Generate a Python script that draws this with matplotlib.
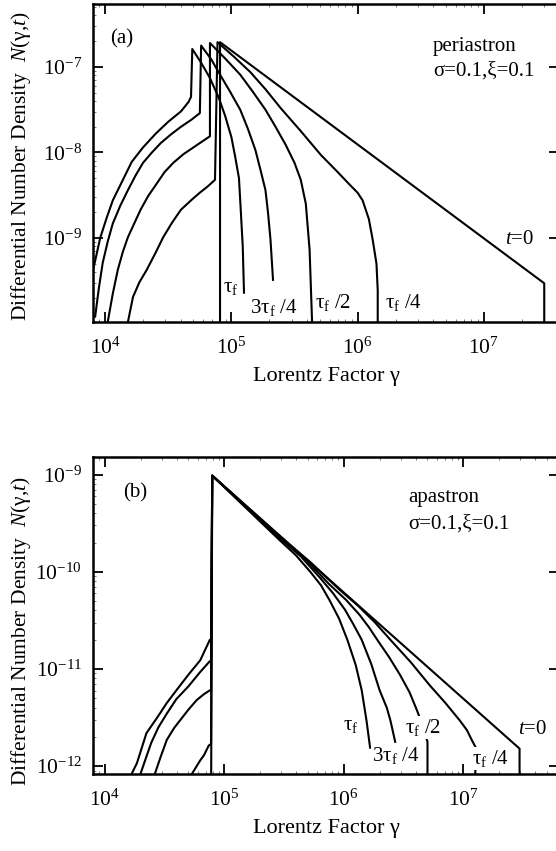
import numpy as np
import matplotlib
matplotlib.use('Agg')
from matplotlib import pyplot as plt

plt.rcParams['font.family'] = ['Liberation Serif', 'DejaVu Serif']
plt.rcParams['mathtext.fontset'] = 'custom'
plt.rcParams['mathtext.rm'] = 'Liberation Serif'
plt.rcParams['mathtext.it'] = 'Liberation Serif:italic'
plt.rcParams['mathtext.bf'] = 'Liberation Serif:bold'
plt.rcParams['axes.unicode_minus'] = False

# values, kept as log10(gamma) and log10(N)
# (a) periastron
top_t0_lg = [4.91, 4.91, 7.48, 7.48]
top_t0_lN = [-10.5, -6.71, -9.53, -10.5]
top_tf_lg = [3.90, 3.93, 3.96, 4.01, 4.06, 4.14, 4.21, 4.30, 4.40, 4.50, 4.60, 4.66, 4.68,
             4.69, 4.76, 4.83, 4.90, 4.95, 5.00, 5.03, 5.06, 5.07, 5.09, 5.10]
top_tf_lN = [-9.40, -9.20, -9.00, -8.77, -8.56, -8.32, -8.11, -7.94, -7.78, -7.64, -7.52, -7.41, -7.35,
             -6.79, -6.95, -7.13, -7.36, -7.57, -7.82, -8.05, -8.30, -8.56, -9.10, -9.64]
top_3tf4_lg = [3.92, 3.95, 3.98, 4.02, 4.06, 4.12, 4.18, 4.24, 4.30, 4.37, 4.44, 4.52, 4.60, 4.68, 4.75,
               4.76, 4.84, 4.91, 4.99, 5.07, 5.13, 5.19, 5.23, 5.27, 5.29, 5.31, 5.33]
top_3tf4_lN = [-9.92, -9.58, -9.29, -9.04, -8.83, -8.62, -8.44, -8.27, -8.12, -8.00, -7.89, -7.79, -7.70,
               -7.62, -7.54, -6.75, -6.91, -7.09, -7.29, -7.50, -7.72, -7.97, -8.20, -8.44, -8.70, -9.02, -9.49]
top_tf2_lg = [4.02, 4.06, 4.10, 4.14, 4.18, 4.23, 4.28, 4.34, 4.41, 4.47, 4.54, 4.62, 4.70, 4.77, 4.83,
              4.83, 4.95, 5.07, 5.17, 5.27, 5.35, 5.43, 5.50, 5.55, 5.59, 5.62, 5.64]
top_tf2_lN = [-9.98, -9.65, -9.37, -9.16, -8.99, -8.83, -8.67, -8.51, -8.36, -8.23, -8.12, -8.02, -7.94,
              -7.87, -7.81, -6.72, -6.90, -7.09, -7.29, -7.50, -7.70, -7.91, -8.12, -8.32, -8.60, -9.14, -10.0]
top_tf4_lg = [4.18, 4.22, 4.27, 4.33, 4.40, 4.46, 4.53, 4.60, 4.68, 4.75, 4.81, 4.87,
              4.89, 5.02, 5.15, 5.27, 5.39, 5.55, 5.71, 5.83, 5.94, 6.00, 6.04, 6.09, 6.12, 6.15, 6.16, 6.16]
top_tf4_lN = [-9.98, -9.69, -9.52, -9.37, -9.17, -8.99, -8.82, -8.67, -8.56, -8.47, -8.40, -8.32,
              -6.71, -6.88, -7.06, -7.26, -7.48, -7.75, -8.03, -8.21, -8.38, -8.47, -8.56, -8.78, -9.02, -9.30, -9.61, -10.0]

# (b) apastron
bot_t0_lg = [4.89, 4.90, 7.47, 7.47]
bot_t0_lN = [-12.5, -9.01, -11.82, -12.5]
bot_tf_lg = [4.23, 4.27, 4.35, 4.44, 4.52, 4.60, 4.70, 4.80, 4.88, 4.89, 4.90,
             5.46, 5.60, 5.72, 5.81, 5.88, 5.96, 6.03, 6.10, 6.15, 6.19, 6.22]
bot_tf_lN = [-12.07, -11.97, -11.66, -11.50, -11.35, -11.22, -11.06, -10.91, -10.70, -10.70, -9.01,
             -9.67, -9.83, -10.00, -10.14, -10.29, -10.48, -10.70, -10.96, -11.22, -11.53, -11.81]
bot_3tf4_lg = [4.30, 4.35, 4.39, 4.45, 4.52, 4.60, 4.70, 4.80, 4.88, 4.89, 4.90,
               5.46, 5.64, 5.80, 5.91, 6.01, 6.08, 6.15, 6.23, 6.30, 6.36, 6.39, 6.43]
bot_3tf4_lN = [-12.08, -11.90, -11.76, -11.60, -11.46, -11.31, -11.18, -11.03, -10.92, -10.92, -9.01,
               -9.65, -9.84, -10.06, -10.22, -10.39, -10.54, -10.70, -10.95, -11.22, -11.40, -11.53, -11.75]
bot_tf2_lg = [4.42, 4.47, 4.52, 4.58, 4.63, 4.70, 4.77, 4.83, 4.88, 4.89, 4.90,
              5.46, 5.68, 5.88, 6.02, 6.13, 6.21, 6.28, 6.38, 6.47, 6.55, 6.61, 6.66, 6.70, 6.70]
bot_tf2_lN = [-12.08, -11.90, -11.73, -11.61, -11.53, -11.42, -11.32, -11.26, -11.22, -11.22, -9.01,
              -9.64, -9.87, -10.13, -10.29, -10.44, -10.57, -10.70, -10.88, -11.06, -11.24, -11.42, -11.58, -11.75, -12.1]
bot_tf4_lg = [4.73, 4.77, 4.80, 4.83, 4.85, 4.87, 4.89, 4.90,
              5.46, 5.72, 5.97, 6.12, 6.26, 6.39, 6.56, 6.72, 6.85, 6.97, 7.03, 7.07, 7.10, 7.10]
bot_tf4_lN = [-12.08, -12.00, -11.94, -11.89, -11.84, -11.79, -11.77, -9.01,
              -9.63, -9.90, -10.19, -10.35, -10.52, -10.70, -10.93, -11.17, -11.35, -11.53, -11.63, -11.73, -11.80, -12.1]

top_curves = [(top_t0_lg, top_t0_lN), (top_tf_lg, top_tf_lN), (top_3tf4_lg, top_3tf4_lN),
              (top_tf2_lg, top_tf2_lN), (top_tf4_lg, top_tf4_lN)]
bot_curves = [(bot_t0_lg, bot_t0_lN), (bot_tf_lg, bot_tf_lN), (bot_3tf4_lg, bot_3tf4_lN),
              (bot_tf2_lg, bot_tf2_lN), (bot_tf4_lg, bot_tf4_lN)]

top_xlim = (8.0e3, 3.95e7)
top_ylim = (1.04e-10, 5.45e-7)
bot_xlim = (8.0e3, 6.3e7)
bot_ylim = (8.3e-13, 1.52e-9)

fig = plt.figure(figsize=(5.56, 8.51), dpi=100)
ax1 = fig.add_axes([0.1673, 0.6216, 0.838, 0.3737])
ax2 = fig.add_axes([0.1673, 0.0905, 0.838, 0.3725])


def style_axis(ax, xlim, ylim, yticks, label_y):
    ax.set_xscale('log')
    ax.set_yscale('log')
    ax.set_xlim(*xlim)
    ax.set_ylim(*ylim)
    ax.set_xticks([1e4, 1e5, 1e6, 1e7])
    ax.set_yticks(yticks)
    for s in ax.spines.values():
        s.set_linewidth(1.8)
    ax.tick_params(which='major', direction='in', top=True, right=True,
                   length=7, width=1.3, labelsize=15.5)
    ax.tick_params(axis='x', which='major', pad=11)
    ax.tick_params(axis='y', which='major', pad=8)
    ax.tick_params(which='minor', direction='in', top=True, right=True,
                   length=2, width=0.6, color='0.4')
    ax.set_xlabel('Lorentz Factor γ', fontsize=16, labelpad=6)
    ax.set_ylabel('Differential Number Density  $N$(γ,$t$)', fontsize=15.5)
    ax.yaxis.set_label_coords(-0.128, label_y)


for lg, lN in top_curves:
    ax1.plot(10 ** np.array(lg), 10 ** np.array(lN), color='black', lw=1.5)
for lg, lN in bot_curves:
    ax2.plot(10 ** np.array(lg), 10 ** np.array(lN), color='black', lw=1.5)

style_axis(ax1, top_xlim, top_ylim, [1e-9, 1e-8, 1e-7], 0.49)
style_axis(ax2, bot_xlim, bot_ylim, [1e-12, 1e-11, 1e-10, 1e-9], 0.45)

fs = 15
box = dict(facecolor='white', edgecolor='none', pad=0.5)
ax1.text(0.061, 0.891, '(a)', transform=ax1.transAxes, fontsize=fs, ha='center', va='center')
ax1.text(0.7296, 0.866, 'periastron', transform=ax1.transAxes, fontsize=fs, va='center')
ax1.text(0.7296, 0.788, 'σ=0.1,ξ=0.1', transform=ax1.transAxes, fontsize=fs, va='center')
ax1.text(0.279, 0.1085, 'τ$_\\mathrm{f}$', transform=ax1.transAxes, fontsize=fs, va='center')
ax1.text(0.337, 0.047, '3τ$_\\mathrm{f}$ /4', transform=ax1.transAxes, fontsize=fs, va='center')
ax1.text(0.476, 0.061, 'τ$_\\mathrm{f}$ /2', transform=ax1.transAxes, fontsize=fs, va='center')
ax1.text(0.627, 0.060, 'τ$_\\mathrm{f}$ /4', transform=ax1.transAxes, fontsize=fs, va='center')
ax1.text(0.884, 0.258, '$t$=0', transform=ax1.transAxes, fontsize=fs, va='center')

ax2.text(0.090, 0.888, '(b)', transform=ax2.transAxes, fontsize=fs, ha='center', va='center')
ax2.text(0.676, 0.871, 'apastron', transform=ax2.transAxes, fontsize=fs, va='center')
ax2.text(0.676, 0.789, 'σ=0.1,ξ=0.1', transform=ax2.transAxes, fontsize=fs, va='center')
ax2.text(0.5365, 0.153, 'τ$_\\mathrm{f}$', transform=ax2.transAxes, fontsize=fs, va='center', bbox=box)
ax2.text(0.599, 0.057, '3τ$_\\mathrm{f}$ /4', transform=ax2.transAxes, fontsize=fs, va='center', bbox=box)
ax2.text(0.670, 0.147, 'τ$_\\mathrm{f}$ /2', transform=ax2.transAxes, fontsize=fs, va='center', bbox=box)
ax2.text(0.813, 0.049, 'τ$_\\mathrm{f}$ /4', transform=ax2.transAxes, fontsize=fs, va='center', bbox=box)
ax2.text(0.912, 0.139, '$t$=0', transform=ax2.transAxes, fontsize=fs, va='center')

fig.savefig('out.png', dpi=100)
